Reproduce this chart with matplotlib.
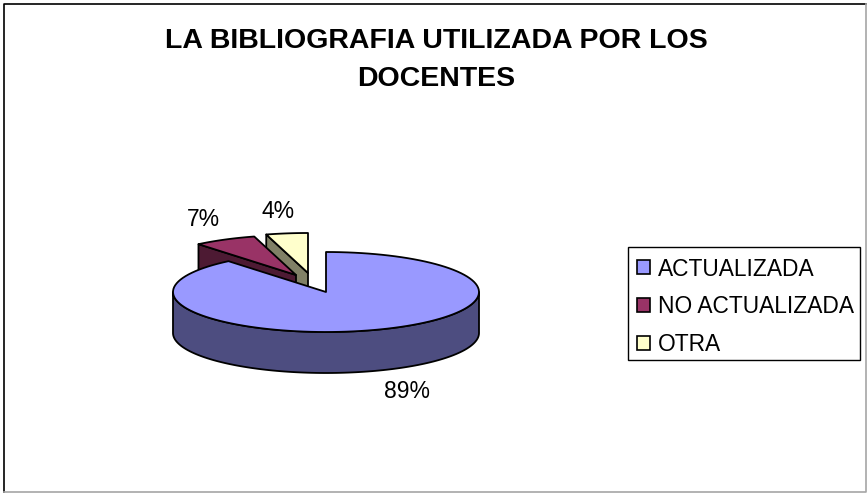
import matplotlib
matplotlib.use('Agg')
import matplotlib.pyplot as plt
import numpy as np
from matplotlib.patches import Patch, Polygon, Rectangle

plt.rcParams['font.family'] = ['Liberation Sans', 'DejaVu Sans']

title = 'LA BIBLIOGRAFIA UTILIZADA POR LOS\nDOCENTES'
categories = ['ACTUALIZADA', 'NO ACTUALIZADA', 'OTRA']
values = [89.0, 6.6, 4.4]
top_colors = ['#9999FF', '#993366', '#FFFFCC']
side_colors = ['#4D4D80', '#4D1A33', '#808066']


def rim(cx, cy, start, end, rx=153, ry=40):
    '''
    Points on the tilted circle, angles in degrees clockwise from the top.
    '''
    t = np.radians(np.linspace(start, end, 120))
    return np.column_stack((cx + rx * np.sin(t), cy - ry * np.cos(t)))


def add_poly(ax, pts, color, z):
    ax.add_patch(Polygon(pts, closed=True, facecolor=color, edgecolor='black',
                         linewidth=1.3, joinstyle='round', zorder=z))


fig = plt.figure(figsize=(8.67, 4.93), dpi=100)
ax = fig.add_axes([0, 0, 1, 1])
ax.set_xlim(0, 867)
ax.set_ylim(493, 0)
ax.axis('off')

# Chart frame: dark on top and left, grey on right and bottom
ax.plot([4, 4, 866], [492, 4, 4], color='black', linewidth=1.2, zorder=1)
ax.plot([4, 866, 866], [492, 492, 4], color='#A6A6A6', linewidth=1.2, zorder=1)

depth = 41
angles = np.cumsum([0] + values) * 3.6

# Exploded slices: only the cut face towards the viewer shows
apexes = [(326, 292), (296, 275), (308, 273)]
for i, z in [(2, 2), (1, 3)]:
    cx, cy = apexes[i]
    a, b = angles[i], angles[i + 1]
    edge = rim(cx, cy, a, a)[0]
    add_poly(ax, [(cx, cy), edge, (edge[0], edge[1] + depth), (cx, cy + depth)],
             side_colors[i], z)
    add_poly(ax, np.vstack(([(cx, cy)], rim(cx, cy, a, b))), top_colors[i],
             z + 0.5)

# Main slice
cx, cy = apexes[0]
front = rim(cx, cy, 90, 270)
add_poly(ax, np.vstack((front, front[::-1] + [0, depth])), side_colors[0], 5)
add_poly(ax, np.vstack(([(cx, cy)], rim(cx, cy, angles[0], angles[1]))),
         top_colors[0], 6)

# Percent labels
ax.text(407, 391, '%.0f%%' % values[0], fontsize=16.5, ha='center', va='center')
ax.text(203, 220, '%.0f%%' % values[1], fontsize=16.5, ha='center', va='center')
ax.text(278, 212, '%.0f%%' % values[2], fontsize=16.5, ha='center', va='center')

ax.text(436, 60, title, fontsize=20.5, fontweight='bold', ha='center',
        va='center', linespacing=1.65)

# Legend box drawn apart so it can be sized to the reference
ax.add_patch(Rectangle((628, 247), 232, 113, facecolor='white',
                       edgecolor='black', linewidth=1, zorder=9))
handles = [Patch(facecolor=c, edgecolor='black', linewidth=1.2)
           for c in top_colors]
leg = ax.legend(handles, categories, loc='upper left',
                bbox_to_anchor=(637, 257.5), bbox_transform=ax.transData,
                fontsize=16.4, frameon=False, borderpad=0, labelspacing=0.64,
                handlelength=0.57, handleheight=0.57, handletextpad=0.36,
                borderaxespad=0)
leg.set_zorder(10)

fig.savefig('out.png', dpi=100)
